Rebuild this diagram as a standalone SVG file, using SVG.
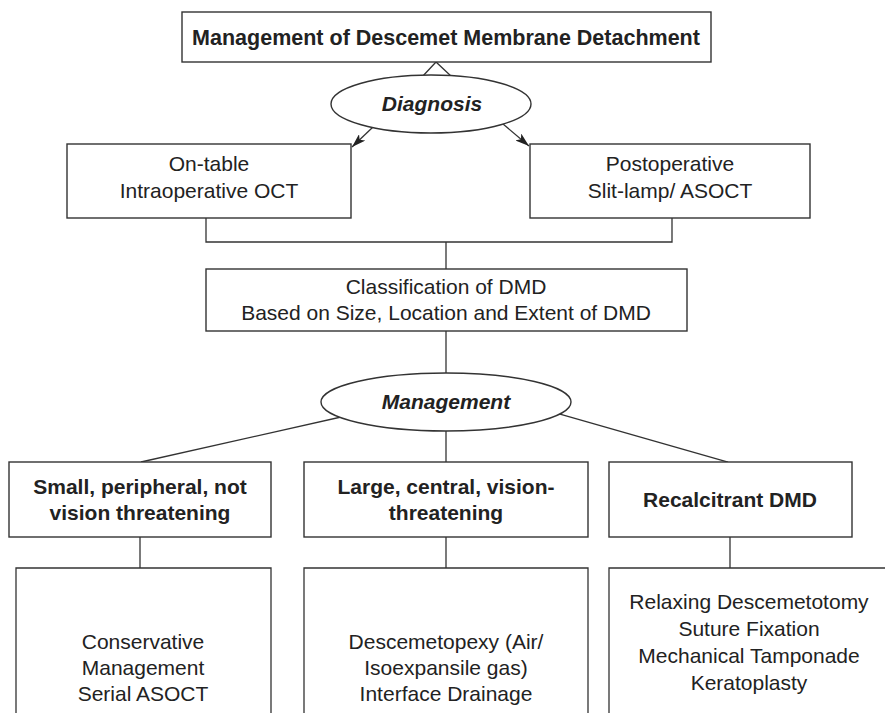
<svg xmlns="http://www.w3.org/2000/svg" width="885" height="713" viewBox="0 0 885 713">
<style>
.box{fill:#fff;stroke:#333;stroke-width:1.4}
.ln{fill:none;stroke:#333;stroke-width:1.3}
text{font-family:"Liberation Sans",Arial,Helvetica,sans-serif;font-size:21px;fill:#222;text-anchor:middle}
.b{font-weight:bold}
.t{font-size:21.5px}
.bi{font-weight:bold;font-style:italic}
</style>
<defs>
<marker id="arr" viewBox="0 0 14 9" refX="14" refY="4.5" markerWidth="14" markerHeight="9" markerUnits="userSpaceOnUse" orient="auto">
<path d="M0,0 L14,4.5 L0,9 L3.5,4.5 Z" fill="#222"/>
</marker>
</defs>
<rect width="885" height="713" fill="#fff"/>
<g id="connectors">
<polyline class="ln" points="422,77 436,62 452,77"/>
<line class="ln" x1="373" y1="127" x2="352" y2="147" marker-end="url(#arr)"/>
<line class="ln" x1="503" y1="124" x2="529" y2="146" marker-end="url(#arr)"/>
<polyline class="ln" points="206,218 206,242 672,242 672,218"/>
<line class="ln" x1="446" y1="242" x2="446" y2="269"/>
<line class="ln" x1="446" y1="331" x2="446" y2="373"/>
<line class="ln" x1="350" y1="415" x2="141" y2="462"/>
<line class="ln" x1="446" y1="431" x2="446" y2="462"/>
<line class="ln" x1="553" y1="412" x2="728" y2="462"/>
<line class="ln" x1="140" y1="537" x2="140" y2="568"/>
<line class="ln" x1="446" y1="537" x2="446" y2="568"/>
<line class="ln" x1="730" y1="537" x2="730" y2="568"/>
</g>
<g id="title">
<rect class="box" x="182" y="12" width="529" height="50"/>
<text class="b t" x="446" y="45">Management of Descemet Membrane Detachment</text>
</g>
<g id="diagnosis">
<ellipse class="box" cx="431" cy="104" rx="100" ry="29"/>
<text class="bi" x="432" y="111">Diagnosis</text>
</g>
<g id="ontable">
<rect class="box" x="67" y="144" width="284" height="74"/>
<text x="209" y="171">On-table</text>
<text x="209" y="198">Intraoperative OCT</text>
</g>
<g id="postoperative">
<rect class="box" x="530" y="144" width="280" height="74"/>
<text x="670" y="171">Postoperative</text>
<text x="670" y="198">Slit-lamp/ ASOCT</text>
</g>
<g id="classification">
<rect class="box" x="206" y="269" width="481" height="62"/>
<text x="446" y="294">Classification of DMD</text>
<text x="446" y="320">Based on Size, Location and Extent of DMD</text>
</g>
<g id="management">
<ellipse class="box" cx="446" cy="402" rx="125" ry="29"/>
<text class="bi" x="446" y="409">Management</text>
</g>
<g id="small">
<rect class="box" x="9" y="462" width="262" height="75"/>
<text class="b" x="140" y="494">Small, peripheral, not</text>
<text class="b" x="140" y="520">vision threatening</text>
</g>
<g id="large">
<rect class="box" x="304" y="462" width="284" height="75"/>
<text class="b" x="446" y="494">Large, central, vision-</text>
<text class="b" x="446" y="520">threatening</text>
</g>
<g id="recalcitrant">
<rect class="box" x="609" y="462" width="243" height="75"/>
<text class="b" x="730" y="507">Recalcitrant DMD</text>
</g>
<g id="conservative">
<path class="ln" d="M16,720 V568 H271 V720"/>
<text x="143" y="649">Conservative</text>
<text x="143" y="675">Management</text>
<text x="143" y="701">Serial ASOCT</text>
</g>
<g id="descemetopexy">
<path class="ln" d="M304,720 V568 H588 V720"/>
<text x="446" y="649">Descemetopexy (Air/</text>
<text x="446" y="675">Isoexpansile gas)</text>
<text x="446" y="701">Interface Drainage</text>
</g>
<g id="relaxing">
<path class="ln" d="M609,720 V568 H890"/>
<text x="749" y="609">Relaxing Descemetotomy</text>
<text x="749" y="636">Suture Fixation</text>
<text x="749" y="663">Mechanical Tamponade</text>
<text x="749" y="690">Keratoplasty</text>
</g>
</svg>
